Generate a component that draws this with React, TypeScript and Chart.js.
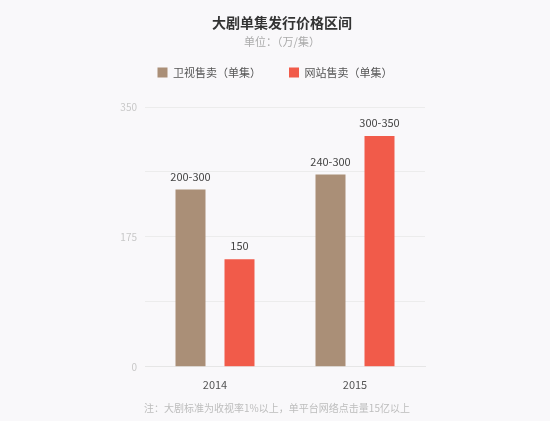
import React, { useEffect, useRef } from "react";
import { Chart, registerables } from "chart.js";

Chart.register(...registerables);

const categories = ["2014", "2015"];
const seriesNames = ["卫视售卖（单集）", "网站售卖（单集）"];
const tvValues = [239, 259];
const webValues = [145, 311];
const tvLabels = ["200-300", "240-300"];
const webLabels = ["150", "300-350"];
const yTickLabels = [0, 175, 350];

const FONT = "'Noto Sans CJK SC', 'Noto Sans', sans-serif";
const TAN = "#aa8f77";
const RED = "#f15b4a";

const valueLabelPlugin = {
  id: "valueLabels",
  afterDatasetsDraw(chart: any) {
    const ctx = chart.ctx;
    const texts = [tvLabels, webLabels];
    ctx.save();
    ctx.font = `11px ${FONT}`;
    ctx.fillStyle = "#444";
    ctx.textAlign = "center";
    ctx.textBaseline = "middle";
    chart.data.datasets.forEach((ds: any, i: number) => {
      const meta = chart.getDatasetMeta(i);
      meta.data.forEach((bar: any, j: number) => {
        ctx.fillText(texts[i][j], bar.x, bar.y - 13);
      });
    });
    ctx.restore();
  },
};

const footnotePlugin = {
  id: "footnote",
  afterDraw(chart: any) {
    const ctx = chart.ctx;
    ctx.save();
    ctx.font = `10px ${FONT}`;
    ctx.fillStyle = "#bdbdbd";
    ctx.textAlign = "center";
    ctx.textBaseline = "middle";
    ctx.fillText("注：大剧标准为收视率1%以上，单平台网络点击量15亿以上", 277, 408);
    ctx.restore();
  },
};

function shiftDraw(box: any, dx: number, dy: number) {
  if (!box || box.__shifted) return;
  box.__shifted = true;
  const origDraw = box.draw;
  box.draw = function (this: any, ...args: any[]) {
    const t = this.top, b = this.bottom, l = this.left, r = this.right;
    this.top = t + dy;
    this.bottom = b + dy;
    this.left = l + dx;
    this.right = r + dx;
    origDraw.apply(this, args);
    this.top = t;
    this.bottom = b;
    this.left = l;
    this.right = r;
  };
}

const shiftPlugin = {
  id: "boxShift",
  afterInit(chart: any) {
    shiftDraw(chart.legend, 0, -19);
    shiftDraw(chart.titleBlock, 7, 0);
    const sub = chart.boxes.find((b: any) => b !== chart.titleBlock && b.options && b.options.text === "单位：（万/集）");
    shiftDraw(sub, 7, 0);
  },
};

export default function App() {
  const ref = useRef<HTMLCanvasElement>(null);
  useEffect(() => {
    document.body.style.margin = "0";
    const chart = new Chart(ref.current!, {
      type: "bar",
      data: {
        labels: categories,
        datasets: [
          { label: seriesNames[0], data: tvValues, backgroundColor: TAN, categoryPercentage: 0.7, barPercentage: 0.612 },
          { label: seriesNames[1], data: webValues, backgroundColor: RED, categoryPercentage: 0.7, barPercentage: 0.612 },
        ],
      },
      options: {
        animation: false,
        responsive: false,
        maintainAspectRatio: false,
        layout: { padding: { left: 0, right: 0, bottom: 19, top: 0 } },
        plugins: {
          title: {
            display: true,
            text: "大剧单集发行价格区间",
            color: "#333",
            font: { family: FONT, size: 14, weight: "bold" },
            padding: { top: 14, bottom: 4 },
          },
          subtitle: {
            display: true,
            text: "单位：（万/集）",
            color: "#aaa",
            font: { family: FONT, size: 11 },
            padding: { top: 0, bottom: 10 },
          },
          legend: {
            display: true,
            labels: {
              boxWidth: 10,
              boxHeight: 10,
              color: "#555",
              font: { family: FONT, size: 11 },
              padding: 28,
            },
          },
          tooltip: { enabled: false },
        },
        scales: {
          x: {
            grid: { display: false, drawTicks: false },
            border: { color: "#e6e6e6" },
            ticks: { color: "#555", font: { family: FONT, size: 11 }, padding: 11 },
          },
          y: {
            min: 0,
            max: 350,
            afterFit(scale: any) {
              scale.width = 145;
            },
            border: { display: false },
            grid: { color: "#ececec", drawTicks: false },
            ticks: {
              stepSize: 87.5,
              color: "#c8c8c8",
              font: { family: FONT, size: 10 },
              padding: 8,
              callback: (v: any) => (yTickLabels.includes(Number(v)) ? String(v) : ""),
            },
          },
          yRight: {
            position: "right",
            min: 0,
            max: 350,
            afterFit(scale: any) {
              scale.width = 125;
            },
            border: { display: false },
            grid: { display: false, drawTicks: false },
            ticks: { display: false },
          },
        },
      },
      plugins: [valueLabelPlugin, footnotePlugin, shiftPlugin],
    });
    return () => chart.destroy();
  }, []);
  return (
    <div style={{ position: "fixed", left: 0, top: 0, width: 550, height: 421, background: "#f9f8fa" }}>
      <canvas ref={ref} width={550} height={421} />
    </div>
  );
}
